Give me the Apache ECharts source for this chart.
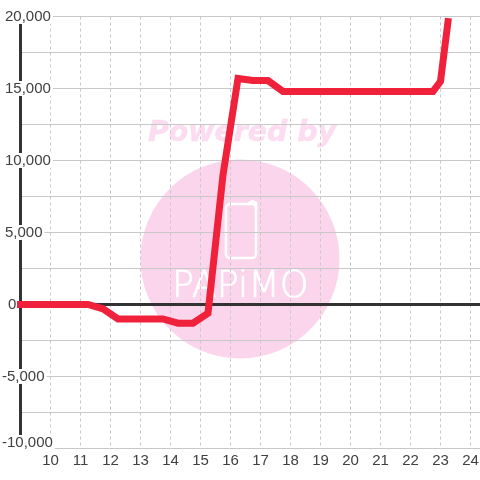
<!DOCTYPE html>
<html><head><meta charset="utf-8">
<style>html,body{margin:0;padding:0;background:#fff}#c{width:480px;height:480px}</style>
<script src="https://cdn.jsdelivr.net/npm/echarts@6/dist/echarts.min.js"></script></head>
<body><div id="c"></div>
<script>
const hours = [9,11.25,11.75,12.25,13.75,14.25,14.75,15.25,15.75,16.25,16.75,17.25,17.75,22.75,23,23.25];
const values = [0,0,-300,-1000,-1000,-1300,-1300,-600,9000,15700,15550,15550,14800,14800,15500,19650];
const yLabelStep = 5000;
const watermarkTitle = 'Powered by';
const watermarkName = 'PAPiMO';

const chart = echarts.init(document.getElementById('c'), null, {renderer:'canvas'});
const labelFont = {fontFamily:'Liberation Sans', fontSize:15, color:'#404040', backgroundColor:'#fff', lineHeight:14, align:'left'};
const gridColor = '#c8c8c8';
chart.setOption({
  animation:false,
  backgroundColor:'#fff',
  grid:{left:20.5, width:459.5, top:16.5, height:432, containLabel:false, outerBoundsMode:'none'},
  graphic:[
    {type:'circle', z:-1, silent:true, shape:{cx:240,cy:259,r:99.5}, style:{fill:'#fbd5ec'}},
    {type:'text', z:-1, silent:true, x:148, y:120, style:{text:watermarkTitle, font:'italic bold 28.4px "DejaVu Sans"', fill:'#fcdcf0', stroke:'#fcdcf0', lineWidth:0.5}},
    {type:'rect', z:-1, silent:true, shape:{x:226,y:204,width:30,height:54,r:4}, style:{fill:'none',stroke:'#fff',lineWidth:2.5}},
    {type:'polyline', z:-1, silent:true, shape:{points:[[248,204],[252,201],[256,203],[256,210]]}, style:{fill:'none',stroke:'#fff',lineWidth:2.5}},
    {type:'text', z:-1, silent:true, x:172, y:269, style:{text:watermarkName, font:'200 36.6px "DejaVu Sans"', fill:'#fff', stroke:'#fff', lineWidth:0.7}}
  ],
  xAxis:[
    {type:'value', min:9, max:24.3167, interval:1, position:'bottom',
     axisLine:{show:false, onZero:false}, axisTick:{show:false},
     axisLabel:{showMinLabel:false, showMaxLabel:false, margin:5, fontFamily:'Liberation Sans', fontSize:15, color:'#404040',
       formatter:v=>Number.isInteger(v)?String(v):''},
     splitLine:{show:true, lineStyle:{color:gridColor, width:1, type:[3,3]}}},
    {type:'value', min:9, max:24.3167, interval:1,
     axisLine:{show:true, onZero:true, onZeroAxisIndex:0, lineStyle:{color:'#333', width:3}},
     axisTick:{show:false}, axisLabel:{show:false}, splitLine:{show:false}}
  ],
  yAxis:{type:'value', min:-10000, max:20000, interval:2500,
    axisLine:{show:true, onZero:false, lineStyle:{color:'#333', width:3}}, axisTick:{show:false},
    axisLabel:{inside:true, margin:-18.5, align:'left', verticalAlign:'middle', interval:0,
      showMinLabel:true, showMaxLabel:true,
      formatter:v=>{
        if(v%yLabelStep!==0) return '';
        const s=v.toLocaleString('en-US');
        if(v===-10000) return '{bot|'+s+'}';
        if(v<0) return '{neg|'+s+'}';
        if(v===0) return '{zero|'+s+'}';
        return '{pos|'+s+'}';
      },
      rich:{
        pos:{...labelFont, padding:[0,2,0,3]},
        neg:{...labelFont, padding:[0,2,0,0]},
        zero:{...labelFont, padding:[0,0,0,6], backgroundColor:'transparent'},
        bot:{...labelFont, padding:[0,2,12,0]}
      }},
    splitLine:{show:true, lineStyle:{color:gridColor, width:1}}},
  series:[{type:'line', xAxisIndex:0, data:hours.map((h,i)=>[h,values[i]]), showSymbol:false, clip:false,
    lineStyle:{color:'#f0213a', width:7, cap:'square', join:'miter'}}]
});
</script></body></html>
